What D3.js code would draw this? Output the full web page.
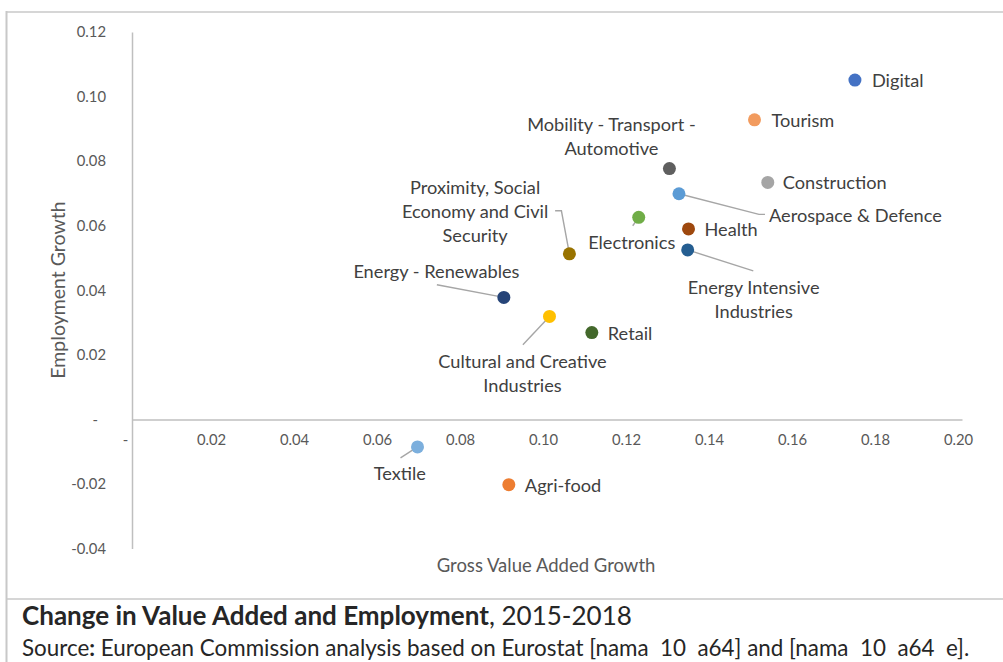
<!DOCTYPE html>
<html><head><meta charset="utf-8">
<script src="https://cdn.jsdelivr.net/npm/d3@7"></script>
<style>
body{margin:0;background:#fff}
svg{display:block}
text{font-family:Lato,"Noto Sans",sans-serif}
</style>
</head><body>
<svg id="chart" width="1003" height="662"></svg>
<script>
// ---------------- data ----------------
const sectors = ["Digital","Tourism","Mobility - Transport - Automotive","Construction","Aerospace & Defence","Electronics","Health","Energy Intensive Industries","Proximity, Social Economy and Civil Security","Energy - Renewables","Cultural and Creative Industries","Retail","Textile","Agri-food"];
const gvaGrowth = [0.1742,0.1500,0.1295,0.1532,0.1318,0.1221,0.1341,0.1339,0.1054,0.0896,0.1006,0.1108,0.0688,0.0908];
const empGrowth = [0.1051,0.0928,0.0777,0.0734,0.0699,0.0626,0.0590,0.0525,0.0513,0.0378,0.0319,0.0269,-0.0085,-0.0202];
const sectorColors = ["#4472C4","#F29B5E","#5F5F5F","#A5A5A5","#5B9BD5","#70AD47","#9E480E","#255E91","#997300","#264478","#FFC000","#43682B","#7CAFDD","#ED7D31"];
const xTickValues = [0,0.02,0.04,0.06,0.08,0.10,0.12,0.14,0.16,0.18,0.20];
const xTickLabels = ["-","0.02","0.04","0.06","0.08","0.10","0.12","0.14","0.16","0.18","0.20"];
const yTickValues = [0.12,0.10,0.08,0.06,0.04,0.02,0,-0.02,-0.04];
const yTickLabels = ["0.12","0.10","0.08","0.06","0.04","0.02","-","-0.02","-0.04"];
const xTitle = "Gross Value Added Growth";
const yTitle = "Employment Growth";
const captionBold = "Change in Value Added and Employment";
const captionRest = ", 2015-2018";
const sourceText = "European Commission analysis based on Eurostat [nama  10  a64] and [nama  10  a64  e].";

// label layout (text lines, anchor, offset from dot, leader polyline offsets)
const labelLines = [["Digital"],["Tourism"],["Mobility - Transport -","Automotive"],["Construction"],["Aerospace & Defence"],["Electronics"],["Health"],["Energy Intensive","Industries"],["Proximity, Social","Economy and Civil","Security"],["Energy - Renewables"],["Cultural and Creative","Industries"],["Retail"],["Textile"],["Agri-food"]];
const labelLayout = [
  {a:"start",dx:17,dy:0},
  {a:"start",dx:17,dy:0},
  {a:"middle",dx:-58,dy:-44.5},
  {a:"start",dx:15,dy:0},
  {a:"start",dx:90,dy:21.3,lead:[[0,0],[80,20.6],[86,20.6]]},
  {a:"middle",dx:-7,dy:24.4,lead:[[0,0],[-6,8.4]]},
  {a:"start",dx:16,dy:0},
  {a:"middle",dx:66,dy:36.7,lead:[[0,0],[65.6,21]]},
  {a:"middle",dx:-94.3,dy:-67.3,lead:[[0,0],[-8,-43],[-14.3,-43]]},
  {a:"middle",dx:-67.4,dy:-26.7,lead:[[0,0],[-67,-12.7]]},
  {a:"middle",dx:-27,dy:44.3,lead:[[0,0],[-26.6,28.3]]},
  {a:"start",dx:16,dy:0},
  {a:"middle",dx:-17.7,dy:26,lead:[[0,0],[-17,11]]},
  {a:"start",dx:16,dy:0}
];

// ---------------- drawing ----------------
const svg = d3.select("#chart");
const x = d3.scaleLinear().domain([0,0.20]).range([132,962]);
const y = d3.scaleLinear().domain([-0.04,0.12]).range([548.6,32]);
const tickColor = "#595959", labelColor = "#404040", axisColor = "#BFBFBF";
const labelSize = 18.2;

// frame
svg.append("line").attr("x1",6.5).attr("x2",1003).attr("y1",12).attr("y2",12).attr("stroke","#C8C8C8").attr("stroke-width",1.5);
svg.append("line").attr("x1",6.5).attr("x2",6.5).attr("y1",11).attr("y2",662).attr("stroke","#C8C8C8").attr("stroke-width",2);
svg.append("line").attr("x1",6.5).attr("x2",1003).attr("y1",599).attr("y2",599).attr("stroke","#C8C8C8").attr("stroke-width",1.5);

// axes (tick marks hidden, custom labels)
const yAxis = d3.axisLeft(y).tickValues(yTickValues).tickSize(0).tickFormat((d,i)=>yTickLabels[i]);
const yg = svg.append("g").attr("transform",`translate(${x(0)},0)`).call(yAxis);
yg.select(".domain").attr("stroke",axisColor).attr("stroke-width",1.5);
yg.selectAll(".tick text").attr("x",-26).attr("fill",tickColor).attr("font-size",14.8).attr("font-family","Lato")
  .attr("dx",(d,i)=>yTickLabels[i]==="-"?-8:0);

const xAxis = d3.axisBottom(x).tickValues(xTickValues).tickSize(0).tickFormat((d,i)=>xTickLabels[i]);
const xg = svg.append("g").attr("transform",`translate(0,${y(0)})`).call(xAxis);
xg.select(".domain").attr("stroke",axisColor).attr("stroke-width",1.5);
xg.selectAll(".tick text").attr("y",21).attr("dy","0.32em").attr("dx",(d,i)=>i===0?-7:-4).attr("fill",tickColor).attr("font-size",14.8).attr("font-family","Lato");

// axis titles
svg.append("text").attr("x",546).attr("y",565).attr("dominant-baseline","central").attr("text-anchor","middle")
  .attr("fill",tickColor).attr("font-size",18.5).text(xTitle);
svg.append("text").attr("transform","translate(57,290) rotate(-90)").attr("dominant-baseline","central").attr("text-anchor","middle")
  .attr("fill",tickColor).attr("font-size",19.5).text(yTitle);

// points data
const pts = sectors.map((s,i)=>({s,i,px:x(gvaGrowth[i]),py:y(empGrowth[i]),c:sectorColors[i],lines:labelLines[i],L:labelLayout[i]}));

// leader lines
svg.append("g").selectAll("polyline").data(pts.filter(p=>p.L.lead)).join("polyline")
  .attr("points",p=>p.L.lead.map(q=>[p.px+q[0],p.py+q[1]].join(",")).join(" "))
  .attr("fill","none").attr("stroke","#A6A6A6").attr("stroke-width",1.4);

// dots
svg.append("g").selectAll("circle").data(pts).join("circle")
  .attr("cx",p=>p.px).attr("cy",p=>p.py).attr("r",6.5).attr("fill",p=>p.c);

// labels
const lg = svg.append("g");
pts.forEach(p=>{
  const t = lg.append("text").attr("text-anchor",p.L.a).attr("fill",labelColor).attr("font-size",labelSize);
  p.lines.forEach((ln,k)=>{
    t.append("tspan").attr("x",p.px+p.L.dx).attr("y",p.py+p.L.dy+k*24).attr("dominant-baseline","central").text(ln);
  });
});

// caption
function fit(sel,target){
  const w = sel.node().getComputedTextLength();
  const fs = parseFloat(sel.attr("font-size"));
  sel.attr("font-size",fs*target/w);
}
const cap = svg.append("text").attr("x",22).attr("y",625).attr("fill","#262626").attr("font-size",22);
cap.append("tspan").attr("font-weight","bold").text(captionBold);
cap.append("tspan").text(captionRest);
fit(cap,610);
const src = svg.append("text").attr("x",22).attr("y",656).attr("fill","#262626").attr("font-size",20).style("white-space","pre");
src.append("tspan").text("Source");
src.append("tspan").attr("font-weight","bold").text(":");
src.append("tspan").text(" "+sourceText);
fit(src,948);
</script>
</body></html>
